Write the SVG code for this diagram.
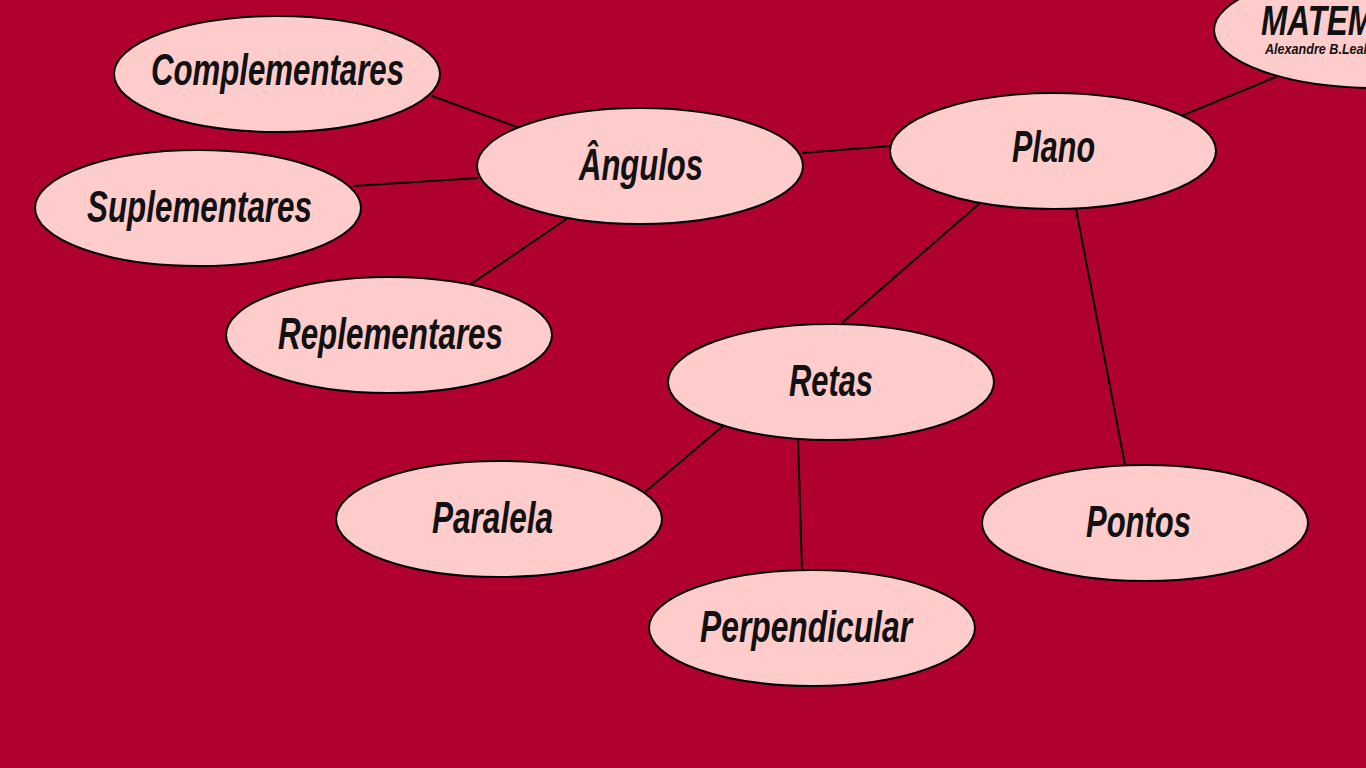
<svg xmlns="http://www.w3.org/2000/svg" width="1366" height="768" viewBox="0 0 1366 768">
<style>
.n ellipse{fill:#FFCCCC;stroke:#000;stroke-width:2}
.n text{font-family:"Liberation Sans",Arial,sans-serif;font-weight:bold;font-style:italic;font-size:44px;fill:#111;text-anchor:middle}
.c line{stroke:#000;stroke-width:2}
</style>
<rect width="1366" height="768" fill="#B0002E"/>
<g class="c">
<line x1="432" y1="96" x2="517" y2="127"/>
<line x1="353" y1="186" x2="478" y2="178"/>
<line x1="471" y1="284" x2="568" y2="218"/>
<line x1="802" y1="153" x2="890" y2="146"/>
<line x1="1181" y1="116" x2="1276" y2="77"/>
<line x1="980" y1="203" x2="842" y2="323"/>
<line x1="1076" y1="209" x2="1125" y2="465"/>
<line x1="723" y1="426" x2="645" y2="492"/>
<line x1="798" y1="440" x2="802" y2="570"/>
</g>
<g id="matematica" class="n"><ellipse cx="1377" cy="30" rx="163" ry="58"/>
<text transform="translate(1261,35) scale(0.75,1)" style="text-anchor:start;font-size:42px">MATEMÁTICA</text>
<text transform="translate(1265,54) scale(0.9,1)" style="text-anchor:start;font-size:14px">Alexandre B.Leal</text></g>
<g id="complementares" class="n"><ellipse cx="277" cy="74" rx="163" ry="58"/><text x="277.5" y="85" textLength="253" lengthAdjust="spacingAndGlyphs">Complementares</text></g>
<g id="suplementares" class="n"><ellipse cx="198" cy="208" rx="163" ry="58"/><text x="199.5" y="222" textLength="225" lengthAdjust="spacingAndGlyphs">Suplementares</text></g>
<g id="replementares" class="n"><ellipse cx="389" cy="335" rx="163" ry="58"/><text x="390.5" y="349" textLength="225" lengthAdjust="spacingAndGlyphs">Replementares</text></g>
<g id="angulos" class="n"><ellipse cx="640" cy="166" rx="163" ry="58"/><text x="641" y="180" textLength="124" lengthAdjust="spacingAndGlyphs">Ângulos</text></g>
<g id="plano" class="n"><ellipse cx="1053" cy="151" rx="163" ry="58"/><text x="1053.5" y="162" textLength="83" lengthAdjust="spacingAndGlyphs">Plano</text></g>
<g id="retas" class="n"><ellipse cx="831" cy="382" rx="163" ry="58"/><text x="831" y="396" textLength="84" lengthAdjust="spacingAndGlyphs">Retas</text></g>
<g id="paralela" class="n"><ellipse cx="499" cy="519" rx="163" ry="58"/><text x="492.5" y="533" textLength="121" lengthAdjust="spacingAndGlyphs">Paralela</text></g>
<g id="perpendicular" class="n"><ellipse cx="812" cy="628" rx="163" ry="58"/><text x="806" y="642" textLength="212" lengthAdjust="spacingAndGlyphs">Perpendicular</text></g>
<g id="pontos" class="n"><ellipse cx="1145" cy="523" rx="163" ry="58"/><text x="1138.5" y="537" textLength="105" lengthAdjust="spacingAndGlyphs">Pontos</text></g>
</svg>
